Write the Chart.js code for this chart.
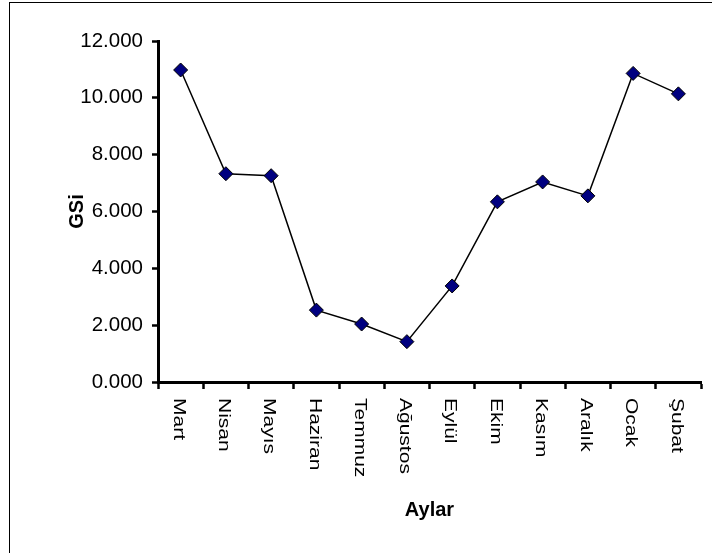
<!DOCTYPE html>
<html>
<head>
<meta charset="utf-8">
<script src="https://cdn.jsdelivr.net/npm/chart.js@4.4.1/dist/chart.umd.min.js"></script>
<style>
  html, body { margin: 0; padding: 0; background: #fff; overflow: hidden; }
  #wrap { position: relative; width: 712px; height: 553px; }
  canvas { position: absolute; left: 0; top: 0; }
  #frame { position: absolute; left: 9px; top: 2px; width: 800px; height: 700px; border: 1px solid #000; pointer-events: none; }
</style>
</head>
<body>
<div id="wrap">
  <canvas id="grafik" width="712" height="553"></canvas>
  <div id="frame"></div>
</div>
<script>
// aylık GSi değerleri
var aylar = ['Mart', 'Nisan', 'Mayıs', 'Haziran', 'Temmuz', 'Ağustos', 'Eylül', 'Ekim', 'Kasım', 'Aralık', 'Ocak', 'Şubat'];
var gsi = [10.98, 7.33, 7.26, 2.53, 2.04, 1.42, 3.38, 6.34, 7.04, 6.55, 10.86, 10.14];
var yTicks = [0, 2, 4, 6, 8, 10, 12];

var FONT = 'Liberation Sans, Arial, sans-serif';

// x etiketleri yukarıdan aşağıya okunacak şekilde elle çiziliyor
var dikeyEtiketler = {
  id: 'dikeyEtiketler',
  afterDraw: function (chart) {
    var ctx = chart.ctx;
    var x = chart.scales.x;
    ctx.save();
    ctx.fillStyle = '#000';
    ctx.font = '21px ' + FONT;
    ctx.textAlign = 'left';
    ctx.textBaseline = 'middle';
    aylar.forEach(function (ay, i) {
      var px = x.getPixelForValue(i) - 2;
      ctx.save();
      ctx.translate(px, x.top + 16);
      ctx.rotate(Math.PI / 2);
      ctx.scale(1, 0.82);
      ctx.fillText(ay, 0, 0);
      ctx.restore();
    });
    ctx.restore();
  }
};

const ctx = document.getElementById('grafik').getContext('2d');
const grafik = new Chart(ctx, {
  type: 'line',
  data: {
    labels: aylar,
    datasets: [{
      label: 'GSi',
      data: gsi,
      borderColor: '#000',
      borderWidth: 1.5,
      pointStyle: 'rectRot',
      pointRadius: 7,
      pointHoverRadius: 7,
      pointBackgroundColor: '#000080',
      pointBorderColor: '#000',
      pointBorderWidth: 1,
      tension: 0
    }]
  },
  options: {
    responsive: false,
    animation: false,
    layout: { padding: { left: 65, top: 41, right: 11, bottom: 0 } },
    plugins: {
      legend: { display: false },
      tooltip: { enabled: false }
    },
    scales: {
      x: {
        offset: true,
        grid: { display: true, drawOnChartArea: false, drawTicks: true, tickLength: 7, tickWidth: 2.5, tickColor: '#000', offset: true },
        border: { display: true, color: '#000', width: 3 },
        ticks: { display: true, color: 'rgba(0,0,0,0)', minRotation: 90, maxRotation: 90, font: { family: FONT, size: 16 } },
        title: { display: true, text: 'Aylar', color: '#000', font: { family: FONT, size: 20, weight: 'bold' }, padding: { top: 0, bottom: 31 } },
        afterFit: function (s) { s.height = 553 - 382; }
      },
      y: {
        min: 0,
        max: 12,
        afterBuildTicks: function (s) { s.ticks = yTicks.map(function (v) { return { value: v }; }); },
        grid: { display: true, drawOnChartArea: false, drawTicks: true, tickLength: 6, tickWidth: 2.5, tickColor: '#000' },
        border: { display: true, color: '#000', width: 3 },
        ticks: {
          color: '#000',
          padding: 9,
          font: { family: FONT, size: 20.5 },
          callback: function (v) { return Number(v).toFixed(3); }
        },
        title: { display: true, text: 'GSi', color: '#000', font: { family: FONT, size: 20, weight: 'bold' }, padding: { top: 0, bottom: 0 } },
        afterFit: function (s) { s.width = 158 - 65; }
      }
    }
  },
  plugins: [dikeyEtiketler]
});
</script>
</body>
</html>
